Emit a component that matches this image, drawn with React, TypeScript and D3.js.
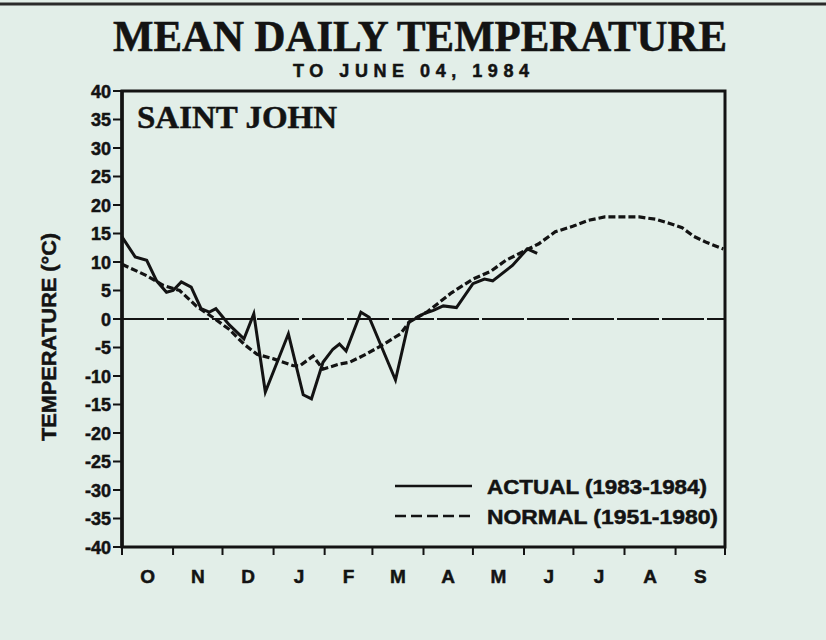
import React from 'react';
import * as d3 from 'd3';

// weekly mean daily temperature, Saint John, Oct 1983 - Jun 1984
const actualDates = [
  '1983-10-01', '1983-10-09', '1983-10-16', '1983-10-22', '1983-10-28', '1983-11-01',
  '1983-11-06', '1983-11-12', '1983-11-18', '1983-11-23', '1983-11-27', '1983-12-05',
  '1983-12-14', '1983-12-20', '1983-12-27', '1984-01-10', '1984-01-19', '1984-01-24',
  '1984-01-31', '1984-02-06', '1984-02-10', '1984-02-14', '1984-02-23', '1984-02-28',
  '1984-03-15', '1984-03-23', '1984-04-01', '1984-04-07', '1984-04-13', '1984-04-21',
  '1984-05-01', '1984-05-08', '1984-05-13', '1984-05-25', '1984-06-03', '1984-06-09',
];
const actualTemps = [
  14.4, 10.9, 10.3, 6.7, 4.7, 5.0,
  6.5, 5.6, 1.8, 1.2, 1.8, -1.0,
  -3.5, 0.9, -12.8, -2.6, -13.3, -14.0,
  -7.6, -5.3, -4.4, -5.6, 1.2, 0.3,
  -10.7, -0.6, 0.9, 1.5, 2.3, 2.0,
  6.2, 7.0, 6.7, 9.4, 12.3, 11.5,
];

// normal 1951-1980
const normalDates = [
  '1983-10-01', '1983-10-16', '1983-10-26', '1983-11-05', '1983-11-15', '1983-11-25',
  '1983-12-05', '1983-12-14', '1983-12-22', '1984-01-01', '1984-01-13', '1984-01-17',
  '1984-01-25', '1984-01-31', '1984-02-10', '1984-02-16', '1984-02-26', '1984-03-08',
  '1984-03-18', '1984-03-24', '1984-04-03', '1984-04-18', '1984-05-01', '1984-05-12',
  '1984-05-21', '1984-06-01', '1984-06-10', '1984-06-20', '1984-07-01', '1984-07-10',
  '1984-07-20', '1984-08-01', '1984-08-10', '1984-08-20', '1984-08-28', '1984-09-05',
  '1984-09-12', '1984-09-20', '1984-09-30',
];
const normalTemps = [
  9.6, 7.6, 5.9, 5.0, 2.3, 0.3,
  -1.8, -4.4, -6.2, -7.0, -8.2, -8.2,
  -6.5, -8.8, -7.9, -7.6, -6.2, -4.4,
  -2.6, -0.3, 1.2, 4.6, 7.0, 8.4,
  10.3, 11.9, 13.2, 15.3, 16.3, 17.3,
  17.9, 17.9, 17.9, 17.5, 16.8, 16.0,
  14.5, 13.4, 12.3,
];

const monthLabels = ['O', 'N', 'D', 'J', 'F', 'M', 'A', 'M', 'J', 'J', 'A', 'S'];
const yTicks = d3.range(-40, 41, 5);

const W = 826;
const H = 640;
const ink = '#131313';
const bg = '#e2eee8';
const sans = '"Liberation Sans", Arial, sans-serif';
const serif = '"Liberation Serif", "Times New Roman", serif';

const parse = d3.timeParse('%Y-%m-%d');

const App: React.FC = () => {
  const left = 122, right = 725, top = 91, bottom = 547;

  const x = d3.scaleTime()
    .domain([parse('1983-10-01')!, parse('1984-10-01')!])
    .range([left, right]);
  const y = d3.scaleLinear().domain([-40, 40]).range([bottom, top]);

  const monthStarts = d3.timeMonth.range(parse('1983-10-01')!, parse('1984-10-02')!);

  const actual = actualDates.map((d, i) => ({ date: parse(d)!, t: actualTemps[i] }));
  const normal = normalDates.map((d, i) => ({ date: parse(d)!, t: normalTemps[i] }));

  const line = d3.line<{ date: Date; t: number }>()
    .x(d => x(d.date))
    .y(d => y(d.t));

  // heavier print look for sans labels
  const bold = { fontFamily: sans, fontWeight: 'bold' as const, fill: ink, stroke: ink, strokeWidth: 0.5 };

  return (
    <svg width={W} height={H} style={{ position: 'absolute', left: 0, top: 0 }}>
      <rect x={0} y={0} width={W} height={H} fill={bg} />
      <line x1={0} x2={W} y1={4} y2={4} stroke="#2a2a2a" strokeWidth={3} />

      {/* titles */}
      <text x={420} y={51} textAnchor="middle" fontFamily={serif} fontWeight="bold"
        fontSize={44} fill={ink} stroke={ink} strokeWidth={0.6}
        textLength={614} lengthAdjust="spacingAndGlyphs">
        MEAN DAILY TEMPERATURE
      </text>
      <text x={411} y={77} textAnchor="middle" fontSize={18} {...bold}
        textLength={236} lengthAdjust="spacing">
        TO JUNE 04, 1984
      </text>

      {/* frame */}
      <rect x={left} y={top} width={right - left} height={bottom - top}
        fill="none" stroke={ink} strokeWidth={3} />
      <line x1={left} x2={left} y1={top} y2={bottom} stroke={ink} strokeWidth={3.5} />

      {/* y axis */}
      {yTicks.map(v => (
        <g key={v}>
          <line x1={113} x2={left} y1={y(v)} y2={y(v)} stroke={ink} strokeWidth={2} />
          <text x={111} y={y(v) + 6.5} textAnchor="end" fontSize={18} {...bold}>{v}</text>
        </g>
      ))}
      <text transform={`translate(56, 337) rotate(-90)`} textAnchor="middle"
        fontSize={20} {...bold} textLength={208} lengthAdjust="spacingAndGlyphs">
        TEMPERATURE (°C)
      </text>

      {/* x axis */}
      {monthStarts.map((d, i) => (
        <line key={i} x1={x(d)} x2={x(d)} y1={bottom} y2={bottom + 8} stroke={ink} strokeWidth={2} />
      ))}
      {monthLabels.map((m, i) => {
        const mid = (x(monthStarts[i]) + x(monthStarts[i + 1])) / 2;
        return (
          <text key={i} x={mid} y={583} textAnchor="middle" fontSize={19} {...bold}>{m}</text>
        );
      })}

      {/* zero line */}
      <line x1={left} x2={right} y1={y(0)} y2={y(0)} stroke={ink} strokeWidth={2.2}
        strokeDasharray="42 3" />

      <text x={137} y={128} fontFamily={serif} fontWeight="bold" fontSize={31} fill={ink}
        stroke={ink} strokeWidth={0.5} textLength={200} lengthAdjust="spacingAndGlyphs">SAINT JOHN</text>

      {/* series */}
      <path d={line(normal) || ''} fill="none" stroke={ink} strokeWidth={3.2}
        strokeDasharray="7 3" />
      <path d={line(actual) || ''} fill="none" stroke={ink} strokeWidth={3}
        strokeLinejoin="miter" />

      {/* legend */}
      <line x1={395} x2={472} y1={486} y2={486} stroke={ink} strokeWidth={2.5} />
      <text x={487} y={494} fontSize={20} {...bold}
        textLength={220} lengthAdjust="spacingAndGlyphs">ACTUAL (1983-1984)</text>
      <line x1={395} x2={472} y1={516} y2={516} stroke={ink} strokeWidth={2.5}
        strokeDasharray="11 5" />
      <text x={487} y={524} fontSize={20} {...bold}
        textLength={231} lengthAdjust="spacingAndGlyphs">NORMAL (1951-1980)</text>
    </svg>
  );
};

export default App;
